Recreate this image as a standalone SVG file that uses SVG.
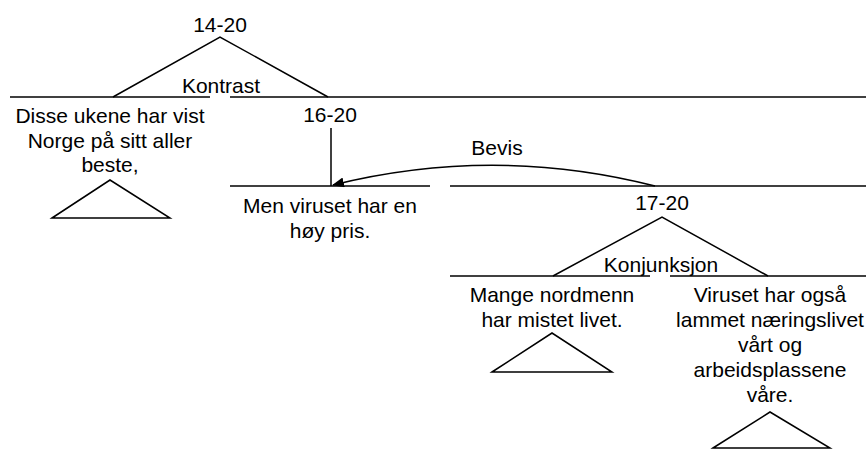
<svg xmlns="http://www.w3.org/2000/svg" width="866" height="450" viewBox="0 0 866 450">
<defs>
<style>
text{font-family:"Liberation Sans",Arial,sans-serif;font-size:21px;fill:#000;text-anchor:middle}
.ln{stroke:#000;stroke-width:1.5;fill:none}
</style>
<marker id="arr" markerWidth="12" markerHeight="10" refX="11" refY="5" orient="auto" markerUnits="userSpaceOnUse">
<path d="M0,0 L12,5 L0,10 z" fill="#000"/>
</marker>
</defs>
<rect width="866" height="450" fill="#fff"/>
<g id="n14-20">
<text x="220" y="32">14-20</text>
</g>
<g id="n14">
<line class="ln" x1="10" y1="97" x2="210" y2="97"/>
<text x="110" y="123">Disse ukene har vist</text>
<text x="110" y="148">Norge på sitt aller</text>
<text x="110" y="172">beste,</text>
<path class="ln" d="M52,218 L110,180 L170,218 Z"/>
</g>
<g id="n16-20">
<line class="ln" x1="230" y1="97" x2="866" y2="97"/>
<text x="330" y="122">16-20</text>
</g>
<g id="n16">
<line class="ln" x1="230" y1="186" x2="430" y2="186"/>
<text x="330" y="213">Men viruset har en</text>
<text x="330" y="238">høy pris.</text>
</g>
<g id="n17-20">
<line class="ln" x1="450" y1="186" x2="866" y2="186"/>
<text x="662" y="210">17-20</text>
</g>
<g id="n17">
<line class="ln" x1="450" y1="276" x2="650" y2="276"/>
<text x="552" y="302">Mange nordmenn</text>
<text x="552" y="327">har mistet livet.</text>
<path class="ln" d="M492,372 L552,333 L612,372 Z"/>
</g>
<g id="n18">
<line class="ln" x1="670" y1="276" x2="866" y2="276"/>
<text x="770" y="302">Viruset har også</text>
<text x="770" y="327">lammet næringslivet</text>
<text x="770" y="352">vårt og</text>
<text x="770" y="377">arbeidsplassene</text>
<text x="770" y="402">våre.</text>
<path class="ln" d="M713,448 L770,412 L830,448 Z"/>
</g>
<g id="connectors">
<path class="ln" d="M113,97 L220,37 L328,97"/>
<text x="221" y="93">Kontrast</text>
<line class="ln" x1="331" y1="128" x2="331" y2="186"/>
<path class="ln" d="M655,186 Q494,145 333,185" marker-end="url(#arr)"/>
<text x="497" y="155">Bevis</text>
<path class="ln" d="M553,276 L662,217 L768,276"/>
<text x="661" y="272">Konjunksjon</text>
</g>
</svg>
